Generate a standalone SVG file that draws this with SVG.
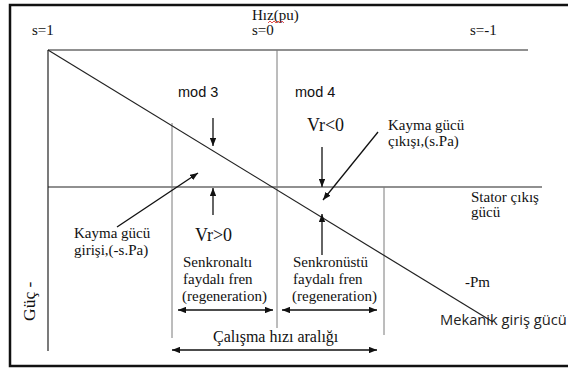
<svg xmlns="http://www.w3.org/2000/svg" width="568" height="370" viewBox="0 0 568 370">
<defs>
<style>
.s{font-family:"Liberation Serif","Times New Roman",serif;fill:#111}
.a{font-family:"Liberation Sans",Arial,sans-serif;fill:#111}
.o{font-family:"Open Sans","DejaVu Sans",sans-serif;fill:#222}
.h{stroke:#222;stroke-width:1.2;fill:none}
.v{stroke:#7a7a7a;stroke-width:1;fill:none}
.ar{stroke:#111;stroke-width:1.3;fill:none}
</style>
<marker id="ah" viewBox="0 0 10 8" refX="10" refY="4" markerWidth="8" markerHeight="6.5" markerUnits="userSpaceOnUse" orient="auto-start-reverse">
<path d="M0,0 L10,4 L0,8 Z" fill="#111"/>
</marker>
</defs>
<rect width="568" height="370" fill="#fff"/>
<rect x="10" y="5" width="570" height="361" fill="none" stroke="#111" stroke-width="2.5"/>
<g id="axes">
<line class="h" x1="48" y1="50" x2="528" y2="50"/>
<line class="h" x1="48" y1="50" x2="48" y2="351"/>
<line class="h" x1="48" y1="187" x2="542" y2="187"/>
<line class="v" x1="277" y1="50" x2="277" y2="328"/>
<line class="v" x1="172" y1="123" x2="172" y2="338"/>
<line class="v" x1="384" y1="187" x2="384" y2="335"/>
<line class="h" x1="48" y1="50" x2="493" y2="322"/>
</g>
<g id="connectors">
<line class="ar" x1="213" y1="118" x2="213" y2="146" marker-end="url(#ah)"/>
<line class="ar" x1="213" y1="215" x2="213" y2="188" marker-end="url(#ah)"/>
<line class="ar" x1="322" y1="147" x2="322" y2="187" marker-end="url(#ah)"/>
<line class="ar" x1="322" y1="255" x2="322" y2="214" marker-end="url(#ah)"/>
<line class="ar" x1="117" y1="227" x2="198" y2="173" marker-end="url(#ah)"/>
<line class="ar" x1="378" y1="132" x2="323" y2="200" marker-end="url(#ah)"/>
<line class="ar" x1="178" y1="310" x2="273" y2="310" marker-start="url(#ah)" marker-end="url(#ah)"/>
<line class="ar" x1="282" y1="310" x2="377" y2="310" marker-start="url(#ah)" marker-end="url(#ah)"/>
<line class="ar" x1="172" y1="350" x2="377" y2="350" marker-start="url(#ah)" marker-end="url(#ah)"/>
</g>
<g id="axis-labels">
<text class="s" x="252" y="20" font-size="15">Hız(pu)</text>
<path d="M268,23 l2,-2 l2,2 l2,-2 l2,2 l2,-2 l2,2 l2,-2 l2,2" stroke="#d22" stroke-width="0.8" fill="none"/>
<text class="s" x="32" y="35" font-size="15">s=1</text>
<text class="s" x="252" y="35" font-size="15">s=0</text>
<text class="s" x="470" y="35" font-size="15">s=-1</text>
<text class="s" font-size="17.5" transform="translate(35,321) rotate(-90)">Güç -</text>
</g>
<g id="mod3">
<text class="a" x="178" y="97" font-size="14.5">mod 3</text>
</g>
<g id="mod4">
<text class="a" x="295" y="97" font-size="14.5">mod 4</text>
</g>
<g id="vr-neg">
<text class="s" x="307" y="131" font-size="18">Vr&lt;0</text>
</g>
<g id="vr-pos">
<text class="s" x="195" y="241" font-size="18">Vr&gt;0</text>
</g>
<g id="slip-out">
<text class="s" x="388" y="130" font-size="15">Kayma gücü</text>
<text class="s" x="388" y="146" font-size="15">çıkışı,(s.Pa)</text>
</g>
<g id="slip-in">
<text class="s" x="74" y="238" font-size="15">Kayma gücü</text>
<text class="s" x="74" y="255" font-size="15">girişi,(-s.Pa)</text>
</g>
<g id="stator">
<text class="s" x="471" y="202" font-size="15">Stator çıkış</text>
<text class="s" x="471" y="217" font-size="15">gücü</text>
</g>
<g id="subsync">
<text class="s" x="183" y="267" font-size="15">Senkronaltı</text>
<text class="s" x="183" y="284" font-size="15">faydalı fren</text>
<text class="s" x="182" y="301" font-size="15">(regeneration)</text>
</g>
<g id="supersync">
<text class="s" x="293" y="267" font-size="15">Senkronüstü</text>
<text class="s" x="293" y="284" font-size="15">faydalı fren</text>
<text class="s" x="292" y="301" font-size="15">(regeneration)</text>
</g>
<g id="range">
<text class="s" x="213" y="342" font-size="16">Çalışma hızı aralığı</text>
</g>
<g id="pm">
<text class="s" x="465" y="287" font-size="15">-Pm</text>
<text class="o" x="440" y="325" font-size="14.7">Mekanik giriş gücü</text>
</g>
</svg>
